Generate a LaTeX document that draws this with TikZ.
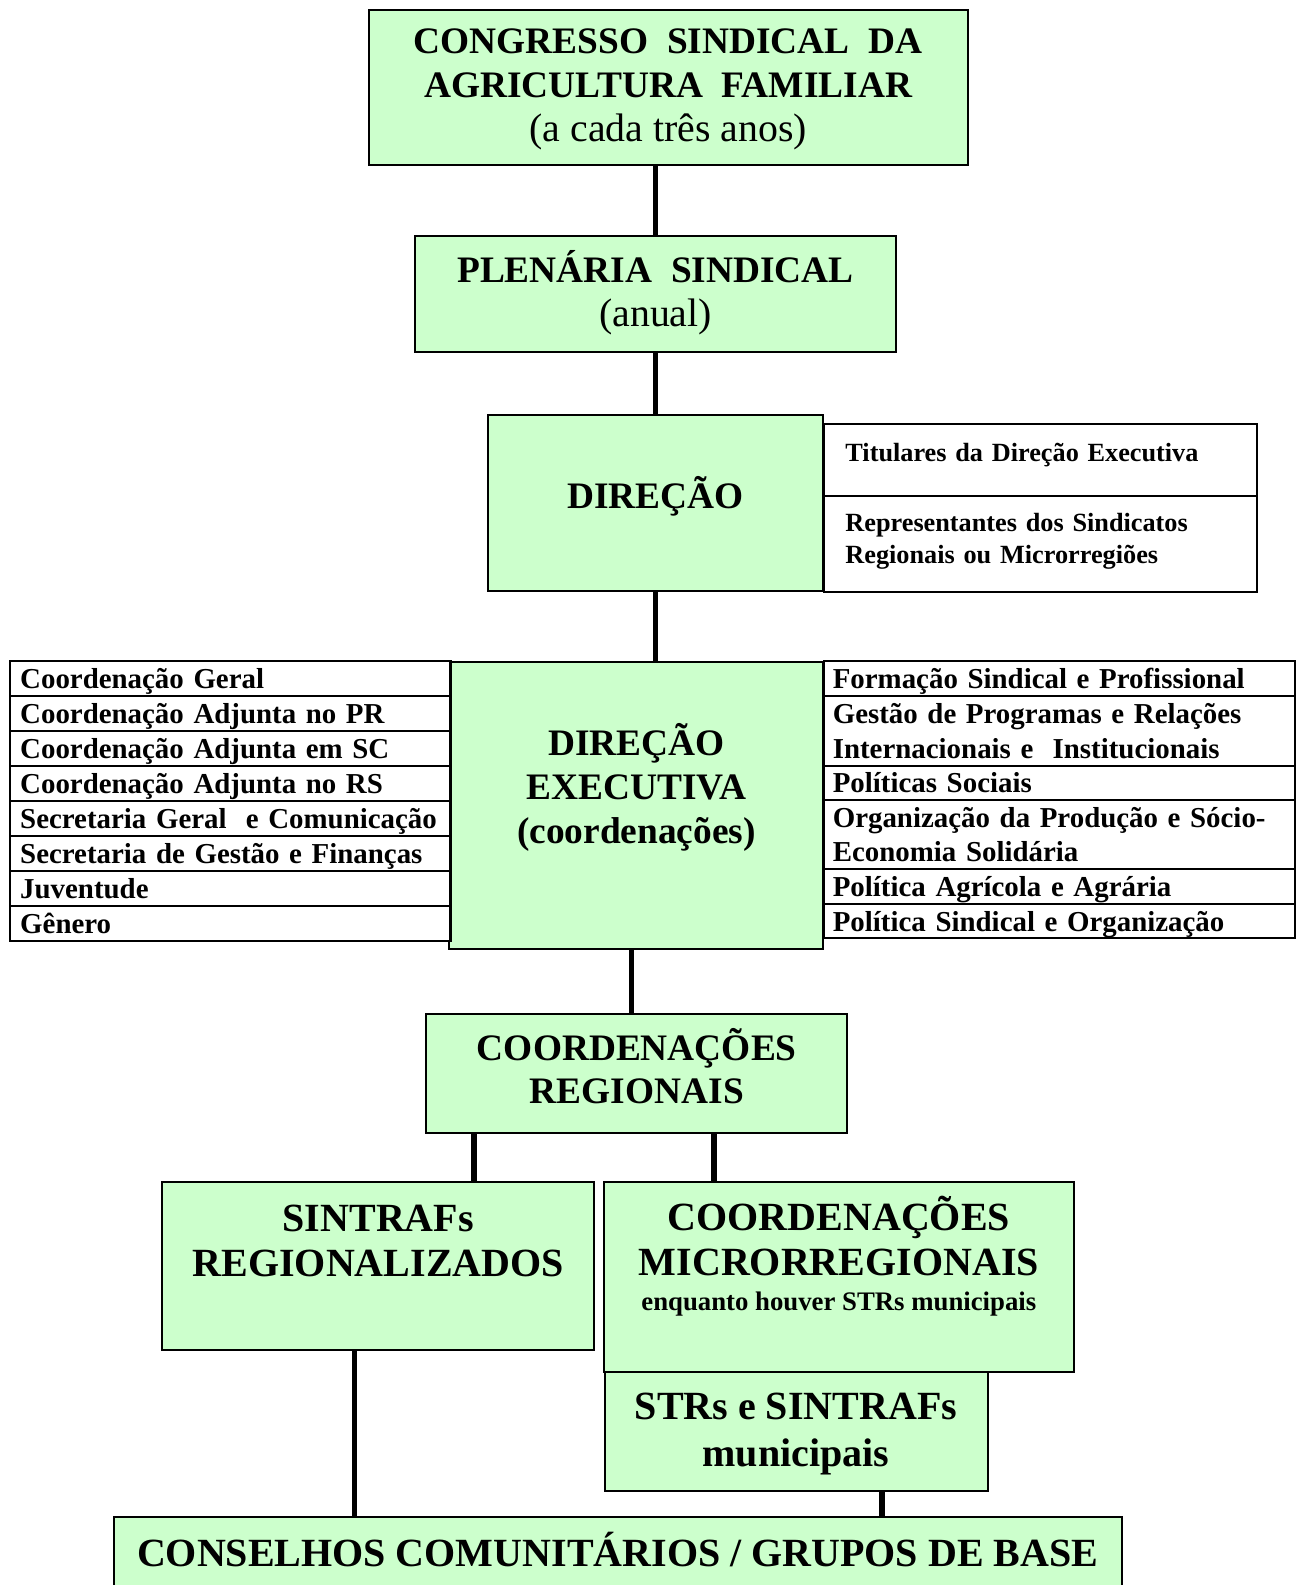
\documentclass[tikz,border=0pt]{standalone}
\usepackage{fontspec}
\setmainfont{Liberation Serif}
\usepackage{xcolor}
\usetikzlibrary{calc}

\definecolor{verdeclaro}{RGB}{204,255,204}

\tikzset{
  caixa/.style={draw, line width=2pt, fill=verdeclaro, inner sep=0pt},
  titulo/.style={align=center, anchor=base, inner sep=0pt, font=\fontsize{37}{43.5}\selectfont\bfseries},
  tituloG/.style={titulo, font=\fontsize{39.6}{45}\selectfont\bfseries},
  ligacao/.style={line width=5.5pt},
  celula/.style={draw, line width=2pt, fill=white, anchor=north west, align=left, inner ysep=0pt, text height=26pt, font=\fontsize{28.6}{34}\selectfont\bfseries},
  celulaD/.style={celula, inner xsep=21pt, text width=386pt, text height=20pt, font=\fontsize{26}{31}\selectfont\bfseries}
}

\begin{document}
\begin{tikzpicture}[x=1pt, y=-1pt]
    \useasboundingbox (0,0) rectangle (1286,1569.2);

    % caixas verdes
    \node[caixa, minimum width=593pt, minimum height=153pt] (congresso) at (661.5,86.5) {};
    \node[caixa, minimum width=476pt, minimum height=114pt] (plenaria) at (649,291) {};
    \node[caixa, minimum width=332pt, minimum height=174pt] (direcao) at (649,498) {};
    \node[caixa, minimum width=370pt, minimum height=285pt] (direxec) at (630,797.5) {};
    \node[caixa, minimum width=417pt, minimum height=118pt] (coordreg) at (630.5,1063) {};
    \node[caixa, minimum width=428pt, minimum height=167pt] (sintrafs) at (374,1253.5) {};
    \node[caixa, minimum width=465pt, minimum height=188pt] (micro) at (830.5,1264) {};
    \node[caixa, minimum width=379pt, minimum height=118pt] (strs) at (788.5,1417) {};
    \node[caixa, minimum width=998pt, minimum height=120pt] (conselhos) at (612,1562) {};

    % ligacoes
    \draw[ligacao] (congresso.south -| plenaria.north) -- (plenaria.north);
    \draw[ligacao] (plenaria) -- (direcao);
    \draw[ligacao] (direcao.south) -- (direcao.south |- direxec.north);
    \coordinate (de) at ([xshift=-5pt]direxec.south);
    \draw[ligacao] (de) -- (de |- coordreg.north);
    \coordinate (crE) at ([xshift=-161.5pt]coordreg.south);
    \coordinate (crD) at ([xshift=76.5pt]coordreg.south);
    \draw[ligacao] (crE) -- (crE |- sintrafs.north);
    \draw[ligacao] (crD) -- (crD |- micro.north);
    \coordinate (si) at ([xshift=-23pt]sintrafs.south);
    \coordinate (st) at ([xshift=84.5pt]strs.south);
    \draw[ligacao] (si) -- (si |- conselhos.north);
    \draw[ligacao] (st) -- (st |- conselhos.north);

    % textos das caixas (ancorados na linha de base da ultima linha)
    \node[titulo] (congresso-t) at (661.5,140) {CONGRESSO\ \ SINDICAL\ \ DA\\AGRICULTURA\ \ FAMILIAR\\{\fontsize{39.4}{43.5}\selectfont\mdseries (a cada três anos)}};
    \node[titulo] (plenaria-t) at (649,323) {PLENÁRIA\ \ SINDICAL\\{\fontsize{39.4}{43.5}\selectfont\mdseries (anual)}};
    \node[titulo] (direcao-t) at (649,503) {DIREÇÃO};
    \node[titulo] (direxec-t) at (630,835) {DIREÇÃO\\EXECUTIVA\\(coordenações)};
    \node[titulo, font=\fontsize{37}{42}\selectfont\bfseries] (coordreg-t) at (630.5,1092) {COORDENAÇÕES\\REGIONAIS};
    \node[tituloG] (sintrafs-t) at (374.5,1264) {SINTRAFs\\REGIONALIZADOS};
    \node[tituloG] (micro-t) at (830.5,1297) {COORDENAÇÕES\\MICRORREGIONAIS\\[-11pt]{\fontsize{26.5}{31}\selectfont enquanto houver STRs municipais}};
    \node[tituloG, font=\fontsize{39.6}{47}\selectfont\bfseries] (strs-t) at (788,1452) {STRs e SINTRAFs\\municipais};
    \node[titulo, font=\fontsize{39.6}{46}\selectfont\bfseries] (conselhos-t) at (611.5,1551) {CONSELHOS COMUNITÁRIOS / GRUPOS DE BASE};

    % quadro ao lado da direcao
    \node[celulaD, minimum height=71pt, text depth=17.8pt] (tit) at (815,419) {Titulares da Direção Executiva};
    \node[celulaD, minimum height=95pt, text depth=43.8pt] (rep) at (815,490) {Representantes dos Sindicatos\\Regionais ou Microrregiões};

    % coordenacoes a esquerda
    \foreach \txt [count=\i from 0] in {Coordenação Geral, Coordenação Adjunta no PR, Coordenação Adjunta em SC, Coordenação Adjunta no RS, Secretaria Geral\ \ e Comunicação, Secretaria de Gestão e Finanças, Juventude, Gênero}
        \node[celula, inner xsep=10pt, text width=416pt, minimum height=34.75pt, text depth=6pt] (esq\i) at (9,{653+34.75*\i}) {\txt};

    % coordenacoes a direita
    \foreach \y/\h/\d/\txt [count=\i] in {653/35/6/Formação Sindical e Profissional, 688/69/40/{Gestão de Programas e Relações\\Internacionais e\ \ Institucionais}, 757/34/6/Políticas Sociais, 791/68/40/{Organização da Produção e Sócio-\\Economia Solidária}, 859/35/6/Política Agrícola e Agrária, 894/34/6/Política Sindical e Organização}
        \node[celula, inner xsep=8.5pt, text width=449pt, minimum height=\h pt, text depth=\d pt] (dir\i) at (815,\y) {\txt};

\end{tikzpicture}
\end{document}
